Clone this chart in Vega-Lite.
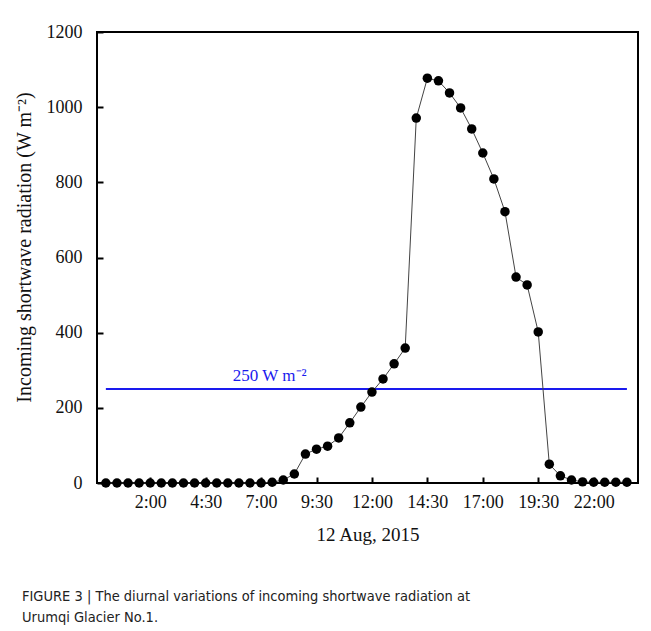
{
  "$schema": "https://vega.github.io/schema/vega-lite/v6.json",
  "width": 541,
  "height": 451,
  "autosize": {"type": "none"},
  "padding": {"left": 97, "top": 32, "right": 13, "bottom": 148},
  "background": "white",
  "config": {
    "view": {"stroke": "black", "strokeWidth": 2},
    "font": "Liberation Serif"
  },
  "title": {
    "text": ["FIGURE 3 | The diurnal variations of incoming shortwave radiation at", "Urumqi Glacier No.1."],
    "orient": "bottom",
    "anchor": "start",
    "frame": "group",
    "dx": -75,
    "offset": 46,
    "font": "DejaVu Sans Condensed, Liberation Sans",
    "fontSize": 14.5,
    "fontWeight": "normal",
    "color": "#222",
    "lineHeight": 21
  },
  "datasets": {
    "rad": [
      {"t": 0, "v": 0}, {"t": 0.5, "v": 0}, {"t": 1, "v": 0}, {"t": 1.5, "v": 0},
      {"t": 2, "v": 0}, {"t": 2.5, "v": 0}, {"t": 3, "v": 0}, {"t": 3.5, "v": 0},
      {"t": 4, "v": 0}, {"t": 4.5, "v": 0}, {"t": 5, "v": 0}, {"t": 5.5, "v": 0},
      {"t": 6, "v": 0}, {"t": 6.5, "v": 0}, {"t": 7, "v": 0}, {"t": 7.5, "v": 2},
      {"t": 8, "v": 8}, {"t": 8.5, "v": 24}, {"t": 9, "v": 77}, {"t": 9.5, "v": 90},
      {"t": 10, "v": 98}, {"t": 10.5, "v": 120}, {"t": 11, "v": 160}, {"t": 11.5, "v": 202},
      {"t": 12, "v": 242}, {"t": 12.5, "v": 277}, {"t": 13, "v": 317}, {"t": 13.5, "v": 359},
      {"t": 14, "v": 971}, {"t": 14.5, "v": 1077}, {"t": 15, "v": 1070}, {"t": 15.5, "v": 1038},
      {"t": 16, "v": 998}, {"t": 16.5, "v": 942}, {"t": 17, "v": 878}, {"t": 17.5, "v": 809},
      {"t": 18, "v": 722}, {"t": 18.5, "v": 548}, {"t": 19, "v": 527}, {"t": 19.5, "v": 402},
      {"t": 20, "v": 50}, {"t": 20.5, "v": 19}, {"t": 21, "v": 8}, {"t": 21.5, "v": 3},
      {"t": 22, "v": 2}, {"t": 22.5, "v": 2}, {"t": 23, "v": 2}, {"t": 23.5, "v": 2}
    ],
    "ref": [{"t": 0, "v": 250, "label": "250 W m⁻²"}, {"t": 23.5, "v": 250, "label": ""}]
  },
  "encoding": {
    "x": {
      "field": "t", "type": "quantitative",
      "scale": {"domain": [-0.4, 24], "nice": false, "zero": false},
      "axis": {
        "title": "12 Aug, 2015",
        "values": [2, 4.5, 7, 9.5, 12, 14.5, 17, 19.5, 22],
        "labelExpr": "floor(datum.value) + ':' + (datum.value % 1 ? '30' : '00')",
        "grid": false, "domain": false,
        "tickSize": -6, "tickColor": "black", "tickWidth": 2,
        "labelPadding": 16, "labelFontSize": 18, "labelColor": "#111",
        "labelFont": "Liberation Serif",
        "titleFont": "Liberation Serif", "titleFontSize": 19, "titleFontWeight": "normal",
        "titleColor": "#111", "titlePadding": 14
      }
    },
    "y": {
      "field": "v", "type": "quantitative",
      "scale": {"domain": [0, 1200], "nice": false},
      "axis": {
        "title": "Incoming shortwave radiation (W m⁻²)",
        "values": [0, 200, 400, 600, 800, 1000, 1200],
        "format": "d",
        "grid": false, "domain": false,
        "tickSize": -6, "tickColor": "black", "tickWidth": 2,
        "labelPadding": 21, "labelFontSize": 18, "labelColor": "#111",
        "labelFont": "Liberation Serif",
        "titleFont": "Liberation Serif", "titleFontSize": 20, "titleFontWeight": "normal",
        "titleColor": "#111", "titlePadding": 12, "titleY": 215
      }
    }
  },
  "layer": [
    {
      "data": {"name": "ref"},
      "mark": {"type": "line", "color": "#1a1aee", "strokeWidth": 2},
      "encoding": {}
    },
    {
      "data": {"name": "rad"},
      "mark": {"type": "line", "color": "#444", "strokeWidth": 1},
      "encoding": {}
    },
    {
      "data": {"name": "rad"},
      "mark": {"type": "point", "filled": true, "color": "black", "size": 90, "opacity": 1},
      "encoding": {}
    },
    {
      "data": {"name": "ref"},
      "transform": [{"filter": "datum.label != ''"}],
      "mark": {"type": "text", "align": "left", "baseline": "alphabetic", "dx": 127, "dy": -8, "fontSize": 17, "font": "Liberation Serif", "color": "#1a1aee"},
      "encoding": {
        "text": {"field": "label", "type": "nominal"}
      }
    }
  ]
}
